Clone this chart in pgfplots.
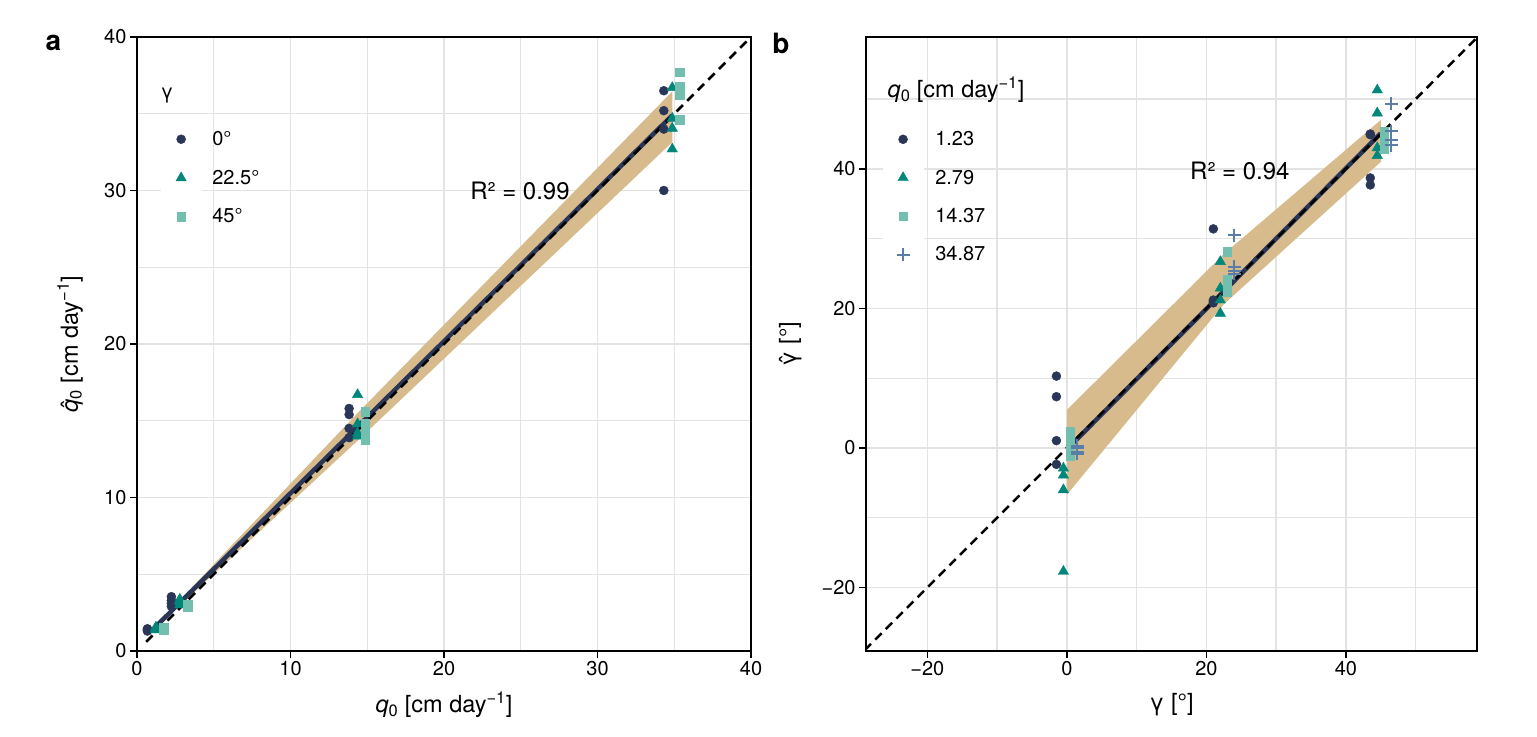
\documentclass[border=0pt]{standalone}
\usepackage{fontspec}
\setmainfont{TeX Gyre Heros}
\usepackage{pgfplots}
\pgfplotsset{compat=1.18}
\definecolor{cnavy}{HTML}{2A3657}
\definecolor{cteal}{HTML}{00877A}
\definecolor{clight}{HTML}{72BFAF}
\definecolor{cplus}{HTML}{5A7DA8}
\definecolor{cband}{HTML}{D8BB8C}
\definecolor{cgrid}{HTML}{E3E3E3}
\newcommand\fs[1]{\fontsize{#1bp}{#1bp}\selectfont}
\newcommand\hatq{\makebox[0pt][l]{\hspace{0.16em}ˆ}\textit{q}}
\newcommand\hatg{\makebox[0pt][l]{\hspace{0.1em}ˆ}γ}
\pgfplotsset{
 common/.style={
  scale only axis, width=614bp, height=614bp,
  axis line style={line width=1.3bp, black},
  tick align=outside, xtick pos=left, ytick pos=left,
  major tick length=7bp, minor tick length=0pt,
  every tick/.style={black, line width=1.3bp},
  grid=both,
  major grid style={cgrid, line width=1.3bp},
  minor grid style={cgrid, line width=1.3bp},
  tick label style={font=\fs{20}},
  label style={font=\fs{23.5}},
  /pgf/number format/assume math mode=true,
  legend style={draw=none, fill=none, inner sep=0pt, outer sep=0pt, font=\fs{20}, row sep=4.3bp, column sep=11bp, nodes={inner sep=0pt}},
  legend cell align=left,
  legend image code/.code={\fill[white] (0bp,-17bp) rectangle (40bp,17bp); \draw[##1] plot coordinates {(20bp,0bp)};},
 },
 pdot/.style={only marks, mark=*, mark size=4.5bp, color=cnavy},
 ptri/.style={only marks, mark=triangle*, mark size=6bp, color=cteal},
 psq/.style={only marks, mark=square*, mark size=4.3bp, color=clight},
 pplus/.style={only marks, mark=+, mark size=6.5bp, color=cplus, mark options={line width=2bp}},
}
\begin{document}
\begin{tikzpicture}
% ---------------- panel a ----------------
\begin{axis}[common, at={(137bp,86bp)}, anchor=south west,
  xmin=0, xmax=40, ymin=0, ymax=40,
  xtick={0,10,20,30,40}, ytick={0,10,20,30,40},
  minor xtick={5,15,25,35}, minor ytick={5,15,25,35},
  xlabel={\textit{q}\textsubscript{0} [cm day\textsuperscript{−1}]},
  ylabel={\hatq\textsubscript{0} [cm day\textsuperscript{−1}]},
  xlabel style={at={(axis description cs:0.5,-0.088)}, anchor=center},
  ylabel style={at={(axis description cs:-0.109,0.5)}, anchor=center},
  legend style={at={(axis cs:1.56,34.46)}, anchor=north west},
]
\addplot[fill=cband, draw=none, forget plot] coordinates {(1.23,1.48)(2.79,2.96)(14.37,13.7)(34.87,33.15)(34.87,36.45)(14.37,15.5)(2.79,3.32)(1.23,1.72)} -- cycle;
\addplot[cnavy, line width=4.5bp, forget plot] coordinates {(1.23,1.6)(34.87,34.9)};
\addplot[black, line width=2.5bp, dash pattern=on 9bp off 6bp, forget plot] coordinates {(0.6,0.6)(40,40)};
\addplot[pdot] coordinates {
 (0.68,1.41)(0.68,1.35)(0.68,1.30)(0.68,1.45)
 (2.24,3.54)(2.24,3.30)(2.24,3.10)(2.24,2.90)
 (13.82,15.8)(13.82,15.4)(13.82,14.5)(13.82,13.9)
 (34.32,36.5)(34.32,35.2)(34.32,34.0)(34.32,30.0)};
\addlegendentry{0°}
\addplot[ptri] coordinates {
 (1.23,1.45)(1.23,1.50)(1.23,1.38)(1.23,1.55)
 (2.79,3.37)(2.79,3.20)(2.79,3.00)(2.79,3.25)
 (14.37,16.7)(14.37,14.8)(14.37,14.2)(14.37,14.0)
 (34.87,36.7)(34.87,34.7)(34.87,34.05)(34.87,32.7)};
\addlegendentry{22.5°}
\addplot[psq] coordinates {
 (1.73,1.48)(1.73,1.40)(1.73,1.35)(1.73,1.55)
 (3.29,3.00)(3.29,2.90)(3.29,2.85)(3.29,3.05)
 (14.87,15.6)(14.87,14.85)(14.87,14.3)(14.87,13.75)
 (35.37,37.7)(35.37,36.8)(35.37,36.2)(35.37,34.6)};
\addlegendentry{45°}
\node[font=\fs{20}] at (axis cs:1.95,36.2) {γ};
\node[font=\fs{24}] at (axis cs:24.95,29.97) {R² = 0.99};
\end{axis}
% ---------------- panel b ----------------
\begin{axis}[common, at={(866bp,86bp)}, anchor=south west, width=611bp,
  xmin=-28.8, xmax=58.8, ymin=-29.1, ymax=58.9,
  xtick={-20,0,20,40}, ytick={-20,0,20,40},
  xticklabels={−20,0,20,40}, yticklabels={−20,0,20,40},
  minor xtick={-10,10,30,50}, minor ytick={-10,10,30,50},
  xlabel={γ [°]},
  ylabel={\hatg\ [°]},
  xlabel style={at={(axis description cs:0.5,-0.088)}, anchor=center},
  ylabel style={at={(axis description cs:-0.124,0.5)}, anchor=center},
  legend style={at={(axis cs:-26.38,46.7)}, anchor=north west, row sep=4bp, column sep=12bp},
]
\addplot[fill=cband, draw=none, forget plot] coordinates {(0,-6.7)(22.5,20.6)(45,41.0)(45,47.0)(22.5,27.8)(0,5.45)} -- cycle;
\addplot[cnavy, line width=4.5bp, forget plot] coordinates {(0,-0.2)(45,45.1)};
\addplot[black, line width=2.5bp, dash pattern=on 9bp off 6bp, forget plot] coordinates {(-29,-29)(59,59)};
\addplot[pdot] coordinates {
 (-1.5,10.3)(-1.5,7.35)(-1.5,1.05)(-1.5,-2.35)
 (21,31.4)(21,21.2)(21,21.0)(21,20.8)
 (43.5,45.0)(43.5,44.9)(43.5,38.7)(43.5,37.7)};
\addlegendentry{1.23}
\addplot[ptri] coordinates {
 (-0.5,-2.9)(-0.5,-3.9)(-0.5,-6.0)(-0.5,-17.7)
 (22,26.7)(22,22.9)(22,21.2)(22,19.3)
 (44.5,51.3)(44.5,48.0)(44.5,43.0)(44.5,41.9)};
\addlegendentry{2.79}
\addplot[psq] coordinates {
 (0.5,2.3)(0.5,1.2)(0.5,0.0)(0.5,-1.1)
 (23,28.1)(23,24.2)(23,23.2)(23,22.3)
 (45.5,45.3)(45.5,44.5)(45.5,43.7)(45.5,42.9)};
\addlegendentry{14.37}
\addplot[pplus] coordinates {
 (1.5,0.3)(1.5,0.0)(1.5,-0.6)(1.5,-0.8)
 (24,30.5)(24,26.0)(24,25.4)(24,25.0)
 (46.5,49.3)(46.5,45.4)(46.5,44.2)(46.5,43.4)};
\addlegendentry{34.87}
\node[font=\fs{23.5}, anchor=west] at (axis cs:-26.2,51.3) {\textit{q}\textsubscript{0} [cm day\textsuperscript{−1}]};
\node[font=\fs{24}] at (axis cs:24.8,39.7) {R² = 0.94};
\end{axis}
\node[font=\fs{28}\bfseries] at (53.5bp,694bp) {a};
\node[font=\fs{28}\bfseries] at (781bp,694bp) {b};
\pgfresetboundingbox
\path (0,0) rectangle (1537bp,737bp);
\end{tikzpicture}
\end{document}
